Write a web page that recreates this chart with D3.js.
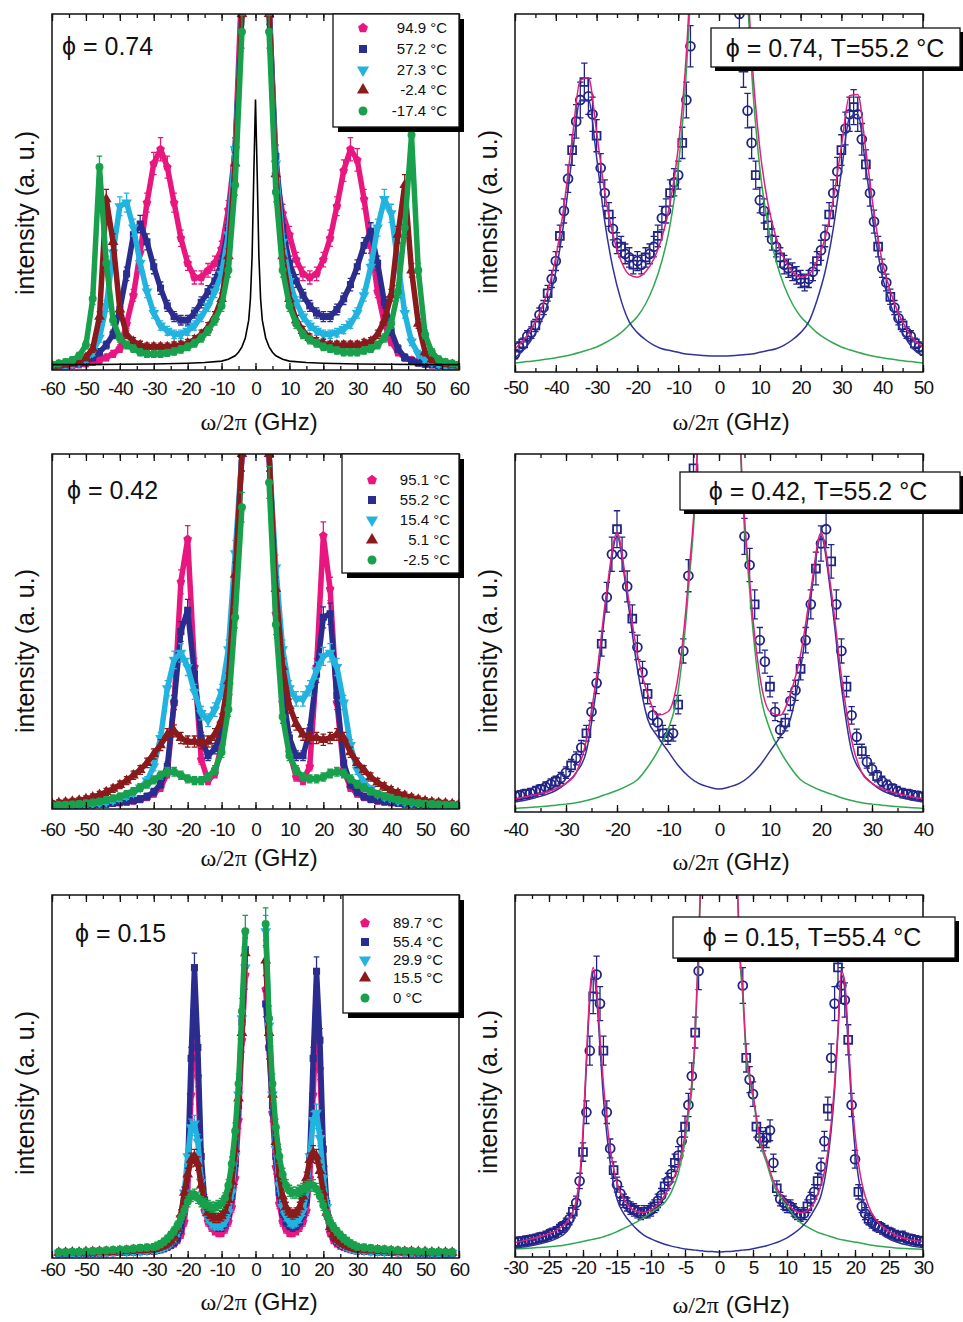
<!DOCTYPE html>
<html>
<head>
<meta charset="utf-8">
<script src="https://cdn.jsdelivr.net/npm/d3@7"></script>
<style>
  body { margin: 0; background: #fff; }
  text { font-family: "Liberation Sans", Arial, sans-serif; fill: #111; }
</style>
</head>
<body>
<svg id="canvas"></svg>
<script>
// ---------- left panels: temperature series (values in % of frame height) ----------
const temps074 = ["94.9 °C", "57.2 °C", "27.3 °C", "-2.4 °C", "-17.4 °C"];
const temps042 = ["95.1 °C", "55.2 °C", "15.4 °C", "5.1 °C", "-2.5 °C"];
const temps015 = ["89.7 °C", "55.4 °C", "29.9 °C", "15.5 °C", "0 °C"];

// phi = 0.74, x = -60..60 step 2
const x074 = d3.range(-60, 61, 2);
const pink074 = [
  1, 1, 1.2, 1.3, 1.5, 1.8, 2.2, 2.8, 3.5, 4.5,
  6, 13, 21, 33, 47, 58, 62, 57, 47, 37,
  30, 26, 26, 28, 30, 34, 45, 62, 110, null,
  null, null, 105, 55, 44, 38, 31, 27, 26, 27,
  31, 37, 46, 56, 62, 59, 48, 35, 22, 13,
  8, 5, 3.5, 2.8, 2.2, 1.8, 1.5, 1.3, 1.2, 1,
  1];
const navy074 = [
  1, 1.2, 1.4, 1.7, 2, 2.5, 3.5, 5, 7, 10,
  17, 27, 38, 41, 36, 29, 23, 18, 15, 14,
  14, 16, 19, 22, 25, 30, 40, 62, 100, null,
  null, null, 102, 60, 40, 30, 25, 21, 18, 16,
  15, 15, 17, 20, 24, 29, 35, 39, 30, 19,
  11, 6, 3.5, 2.6, 2, 1.7, 1.5, 1.3, 1.2, 1.1,
  1];
const cyan074 = [
  1, 1.2, 1.4, 1.7, 2.2, 3, 5, 9, 18, 33,
  46, 47, 40, 30, 22, 16, 12.5, 11, 10, 10,
  11, 12.5, 15, 18, 22, 27, 38, 62, 100, null,
  null, null, 100, 58, 36, 25, 19, 15, 12.5, 11,
  10, 10, 10.5, 11.5, 13, 16, 21, 29, 40, 48,
  44, 30, 16, 8, 4.5, 3, 2.2, 1.7, 1.4, 1.2,
  1];
const red074 = [
  1.2, 1.4, 1.7, 2, 2.5, 3.5, 6, 15, 48, 36,
  17, 10, 8, 7, 6.5, 6.5, 6.5, 6.5, 6.8, 7,
  7.5, 8.5, 10, 12, 15, 20, 32, 58, 100, null,
  null, null, 100, 55, 32, 20, 14, 11, 9, 8,
  7.5, 7, 7, 7, 7, 7, 7.5, 8, 10, 14,
  21, 38, 52, 28, 13, 5, 3, 2.2, 1.8, 1.5,
  1.3];
const green074 = [
  1.5, 1.8, 2.2, 2.8, 4, 7, 20, 57, 30, 14,
  9, 7, 6, 5, 4.5, 4.5, 4.5, 4.8, 5.2, 5.8,
  6.5, 7.5, 9, 11, 14, 18, 28, 52, 95, null,
  null, null, 95, 50, 28, 18, 13, 10, 8.5, 7.5,
  6.5, 6, 5.5, 5, 5, 5, 5.5, 6, 7, 9,
  13, 22, 40, 66, 28, 10, 5, 3, 2.2, 1.8,
  1.5];
// instrument function (black line)
const blackX = [-60, -50, -40, -30, -20, -15, -10, -8, -6, -5, -4, -3, -2, -1.5, -1, -0.5, 0, 0.5, 1, 1.5, 2, 3, 4, 5, 6, 8, 10, 15, 20, 30, 40, 50, 60];
const blackY = [1.5, 1.5, 1.6, 1.7, 1.9, 2.1, 2.5, 3, 4, 5, 6.5, 9, 14, 20, 32, 55, 76, 55, 32, 20, 14, 9, 6.5, 5, 4, 3, 2.5, 2.1, 1.9, 1.7, 1.6, 1.5, 1.5];

// phi = 0.42, x = -60..60 step 2
const x042 = d3.range(-60, 61, 2);
const pink042 = [
  0.8, 0.8, 0.9, 1, 1, 1.1, 1.2, 1.3, 1.4, 1.6,
  1.8, 2, 2.3, 2.7, 3.3, 4.3, 6, 10, 30, 64,
  76, 40, 14, 8, 10, 18, 32, 62, 100, null,
  null, null, 100, 55, 30, 16, 9, 8, 12, 40,
  77, 62, 30, 11, 6, 4.3, 3.3, 2.7, 2.3, 2,
  1.8, 1.6, 1.4, 1.3, 1.2, 1.1, 1, 1, 0.9, 0.8,
  0.8];
const navy042 = [
  0.8, 0.9, 0.9, 1, 1.1, 1.2, 1.3, 1.4, 1.5, 1.7,
  1.9, 2.1, 2.4, 2.8, 3.5, 4.8, 7, 12, 30, 50,
  56, 38, 20, 15, 17, 22, 35, 65, 100, null,
  null, null, 100, 60, 33, 20, 15, 15, 22, 38,
  54, 55, 32, 13, 7, 4.8, 3.5, 2.8, 2.4, 2.1,
  1.9, 1.7, 1.5, 1.4, 1.3, 1.2, 1.1, 1, 0.9, 0.9,
  0.8];
const cyan042 = [
  1, 1, 1.1, 1.2, 1.3, 1.4, 1.6, 1.8, 2.1, 2.5,
  3, 3.7, 4.6, 6, 8, 12, 20, 34, 42, 44,
  40, 33, 27, 25, 28, 33, 45, 72, 100, null,
  null, null, 100, 68, 45, 34, 31, 31, 34, 39,
  43, 44, 40, 30, 18, 11, 7.5, 5.5, 4.3, 3.5,
  2.9, 2.4, 2.1, 1.8, 1.6, 1.4, 1.3, 1.2, 1.1, 1,
  1];
const red042 = [
  1.5, 1.7, 1.9, 2.1, 2.4, 2.8, 3.3, 4, 4.8, 5.7,
  6.8, 8, 9.5, 11, 13, 15.5, 18, 21, 22, 20,
  19, 19, 18.5, 19, 21, 25, 36, 66, 100, null,
  null, null, 100, 62, 40, 29, 24, 21, 20, 20,
  19.5, 20, 21, 20, 16, 13, 11, 9, 7.5, 6.3,
  5.3, 4.5, 3.8, 3.2, 2.7, 2.3, 2, 1.8, 1.6, 1.4,
  1.3];
const green042 = [
  1, 1.1, 1.2, 1.3, 1.4, 1.6, 1.8, 2.1, 2.5, 3,
  3.5, 4.2, 5, 6, 7, 8.2, 9.5, 10.5, 10.5, 9.5,
  8.5, 8, 8, 9, 11, 16, 28, 54, 85, null,
  null, null, 92, 52, 26, 15, 11, 9, 8.5, 8.5,
  9, 10, 10.5, 10, 8.5, 7, 6, 5, 4.2, 3.6,
  3, 2.6, 2.2, 1.9, 1.7, 1.5, 1.4, 1.3, 1.2, 1.1,
  1];

// phi = 0.15, x = -58..-32 step 2, -30..30 step 1, 32..58 step 2
const x015 = d3.range(-58, -31, 2).concat(d3.range(-30, 31, 1), d3.range(32, 59, 2));
const pink015 = [
  1.2, 1.2, 1.3, 1.3, 1.3, 1.4, 1.4, 1.5, 1.5, 1.6, 1.6, 1.7, 1.8, 1.9,
  2, 2.2, 2.4, 2.7, 3, 3.5, 4, 5, 6.5, 10,
  18, 45, 68, 50, 22, 13, 10, 8.5, 7.5, 7,
  7, 8, 10, 14, 22, 38, 60, 78, null, null,
  null, null, null, 74, 58, 40, 25, 15, 10, 8,
  7, 7, 7.5, 8.5, 10, 13, 22, 45, 66, 52,
  25, 12, 7, 5, 4, 3.4, 3, 2.7, 2.4, 2.2,
  2,
  1.9, 1.8, 1.7, 1.6, 1.6, 1.5, 1.5, 1.4, 1.4, 1.3, 1.3, 1.3, 1.2, 1.2];
const navy015 = [
  1.3, 1.3, 1.3, 1.4, 1.4, 1.4, 1.5, 1.5, 1.6, 1.6, 1.7, 1.8, 1.9, 2,
  2, 2.2, 2.4, 2.7, 3.1, 3.6, 4.3, 5.5, 8, 13,
  25, 55, 80, 58, 28, 16, 12, 10, 9, 8.5,
  8.5, 9.5, 12, 17, 26, 42, 65, 85, null, null,
  null, null, null, 70, 58, 42, 28, 18, 12.5, 10,
  9, 8.5, 9, 10, 12, 16, 28, 55, 79, 60,
  30, 15, 9, 6, 4.5, 3.8, 3.3, 2.9, 2.6, 2.3,
  2.1,
  2, 1.9, 1.8, 1.7, 1.6, 1.6, 1.5, 1.5, 1.4, 1.4, 1.4, 1.3, 1.3, 1.3];
const cyan015 = [
  1.4, 1.4, 1.4, 1.5, 1.5, 1.6, 1.6, 1.7, 1.7, 1.8, 1.8, 1.9, 2, 2.1,
  2.2, 2.4, 2.7, 3, 3.5, 4.2, 5.2, 7, 11, 18,
  28, 36, 37, 32, 21, 14, 11, 9.5, 9, 9,
  9, 10, 12.5, 18, 28, 45, 66, 80, null, null,
  null, null, null, 90, 64, 45, 30, 20, 14, 11.5,
  10, 9.5, 10, 11, 13, 18, 28, 38, 40, 33,
  22, 14, 9, 6.5, 5, 4.2, 3.6, 3.1, 2.7, 2.4,
  2.2,
  2.1, 2, 1.9, 1.8, 1.8, 1.7, 1.7, 1.6, 1.6, 1.5, 1.5, 1.4, 1.4, 1.4];
const red015 = [
  1.5, 1.5, 1.6, 1.6, 1.7, 1.7, 1.8, 1.8, 1.9, 2, 2.1, 2.2, 2.3, 2.4,
  2.5, 2.8, 3.1, 3.5, 4, 4.8, 6, 8, 12, 18,
  23, 27, 28, 26, 20, 15, 12.5, 11.5, 11, 11,
  11.5, 13, 16, 21, 30, 44, 62, 84, null, null,
  null, null, null, 82, 62, 45, 32, 23, 17, 14,
  12.5, 12, 12.5, 14, 17, 22, 27, 29, 28, 24,
  18, 12.5, 8.5, 6.5, 5.3, 4.5, 3.9, 3.4, 3, 2.7,
  2.5,
  2.4, 2.3, 2.2, 2.1, 2, 1.9, 1.8, 1.8, 1.7, 1.7, 1.6, 1.6, 1.5, 1.5];
const green015 = [
  1.6, 1.6, 1.7, 1.7, 1.8, 1.9, 2, 2.1, 2.2, 2.3, 2.4, 2.6, 2.8, 2.9,
  3, 3.4, 3.8, 4.5, 5.3, 6.3, 7.5, 9, 11, 13,
  15.5, 17, 17.5, 16.5, 15.5, 15, 14.5, 14, 14, 14.5,
  15, 16.5, 20, 26, 35, 48, 68, 90, null, null,
  null, null, null, 92, 66, 48, 36, 28, 23, 20,
  18.5, 18, 18, 18.5, 19, 19.5, 20, 20, 19, 17,
  14.5, 12, 10, 8.5, 7.3, 6.3, 5.4, 4.7, 4, 3.5,
  3.1,
  2.9, 2.7, 2.5, 2.4, 2.2, 2.1, 2, 1.9, 1.8, 1.8, 1.7, 1.7, 1.6, 1.6];

// ---------- right panels: one spectrum with fits ----------
// phi = 0.74, T = 55.2 °C
const dataX074 = d3.range(-50, 51, 1);
const data074 = [
  5, 7, 8, 10, 11, 13, 16, 18, 22, 26,
  31, 38, 45, 54, 62, 70, 76, 81, 77, 72,
  66, 57, 50, 44, 40, 36, 35, 33, 32, 30,
  31, 30, 32, 33, 35, 38, 43, 45, 50, 53,
  55, 64, 76, 91, null, null, null, null, null, null,
  null, null, null, null, null, 100, 85, 73, 64, 55,
  48, 45, 41, 37, 35, 32, 30, 29, 28, 27,
  26, 25, 26, 28, 31, 34, 38, 44, 50, 56,
  62, 68, 72, 74, 72, 65, 58, 50, 42, 35,
  29, 25, 21, 18, 15, 13, 11, 10, 8, 7,
  6];
const fitX074 = d3.range(-50, 51, 2);
const blue074 = [
  4, 6, 9, 13, 19, 28, 42, 60, 76, 76,
  60, 42, 29, 20, 14, 11, 9, 7.5, 6.5, 6,
  5.5, 5, 4.8, 4.6, 4.5, 4.5, 4.5, 4.6, 4.8, 5,
  5.5, 6, 6.5, 7.5, 9, 11, 14, 20, 28, 40,
  56, 71, 72, 57, 40, 27, 19, 13, 9, 6,
  4.5];
const central074 = [
  2.5, 2.8, 3, 3.3, 3.6, 4, 4.4, 4.9, 5.5, 6.2,
  7, 8.1, 9.4, 11, 13.2, 15.5, 19, 24, 31, 41,
  57, 84, 133, 225, 420, 520, 420, 225, 133, 84,
  57, 41, 31, 24, 19, 15.5, 13.2, 11, 9.4, 8.1,
  7, 6.2, 5.5, 4.9, 4.4, 4, 3.6, 3.3, 3, 2.8,
  2.5];
const total074 = [
  6.5, 8.8, 12, 16.3, 22.6, 32, 46.4, 64.9, 81.5, 82.2,
  67, 50.1, 38.4, 31, 27.2, 26.5, 28, 31.5, 37.5, 47,
  62.5, 89, 137.8, 229.6, 424.5, 524.5, 424.5, 229.6, 137.8, 89,
  62.5, 47, 37.5, 31.5, 28, 26.5, 27.2, 31, 37.4, 48.1,
  63, 77.2, 77.5, 61.9, 44.4, 31, 22.6, 16.3, 12, 8.8,
  7];

// phi = 0.42, T = 55.2 °C
const dataX042 = d3.range(-40, 41, 1);
const data042 = [
  4.5, 4.7, 5, 5.3, 5.8, 6.3, 7, 7.8, 8.5, 9.5,
  11, 13, 15, 18, 22, 28, 36, 47, 60, 72,
  79, 72, 63, 54, 46, 39, 33, 27, 25, 22,
  21, 22, 30, 45, 66, 96, null, null, null, null,
  null, null, null, null, null, 77, 69, 58, 48, 42,
  35, 28, 23, 25, 31, 34, 40, 48, 58, 68,
  75, 79, 70, 58, 45, 35, 27, 21, 17, 14,
  12, 10, 8.5, 7.5, 6.5, 5.8, 5.3, 5, 4.7, 4.5,
  4.3];
const fitX042 = d3.range(-40, 41, 2);
const blue042 = [
  2.8, 3.3, 4, 4.8, 6, 8, 11, 17, 35, 60,
  77, 60, 40, 26, 21, 17, 13, 10, 8, 7,
  6.4, 7, 8, 10, 13, 17, 21, 26, 40, 60,
  77, 60, 35, 17, 11, 8, 6, 4.8, 4, 3.3,
  2.8];
const central042 = [
  1, 1.2, 1.4, 1.6, 1.9, 2.2, 2.6, 3.2, 4, 5,
  6, 7.3, 9, 12.5, 17, 23, 34, 62, 110, 300,
  500, 300, 110, 62, 34, 23, 17, 12.5, 9, 7.3,
  6, 5, 4, 3.2, 2.6, 2.2, 1.9, 1.6, 1.4, 1.2,
  1];
const total042 = [
  3.7, 4.2, 4.8, 5.5, 6.5, 8, 11, 20, 38, 62,
  78, 62, 44, 33, 27, 28, 38, 65, 112, 300,
  500, 300, 112, 65, 38, 28, 27, 33, 44, 62,
  78, 62, 38, 20, 11, 8, 6.5, 5.5, 4.8, 4.2,
  3.7];

// phi = 0.15, T = 55.4 °C
const dataX015 = d3.range(-30, 30.5, 0.5);
const data015 = [
  4, 4.2, 4.3, 4.5, 4.6, 4.8, 5, 5.3, 5.5, 5.8,
  6.2, 6.6, 7, 7.6, 8.3, 9.2, 10.5, 12.5, 15, 21,
  29, 40, 57, 72, 78, 70, 57, 40, 30, 24,
  20, 17.5, 15.5, 14.5, 13.5, 13, 12.5, 12, 12.5, 12.5,
  13, 14, 15.5, 17, 19.5, 21, 23, 26, 28, 32,
  36, 42, 50, 62, 79, null, null, null, null, null,
  null, null, null, null, null, null, null, 75, 55, 49,
  45, 36, 33, 32, 33, 35, 26, 19, 16, 15,
  14, 14, 13, 12, 11.5, 12, 14, 16, 18, 21,
  25, 32, 41, 55, 70, 80, 75, 71, 60, 42,
  27, 18, 14, 12, 10.5, 9.5, 8.8, 8.3, 7.8, 7.3,
  6.8, 6.4, 6, 5.7, 5.8, 5.3, 5, 4.8, 4.6, 4.4,
  4.2];
const fitX015 = [
  -30, -28, -26, -24, -23, -22, -21.5, -21, -20.5, -20,
  -19.5, -19, -18.5, -18, -17.5, -17, -16.5, -16, -15.5, -15,
  -14, -13, -12, -11, -10, -9, -8, -7, -6, -5,
  -4.5, -4, -3.5, -3, -2.5, -2, -1, 0, 1, 2,
  2.5, 3, 3.5, 4, 4.5, 5, 6, 7, 8, 9,
  10, 11, 12, 13, 14, 15, 15.5, 16, 16.5, 17,
  17.5, 18, 18.5, 19, 19.5, 20, 20.5, 21, 22, 23,
  24, 26, 28, 30];
const blue015 = [
  2.5, 3, 3.8, 5, 6, 8, 10, 13, 20, 33,
  53, 71, 79, 72, 58, 44, 34, 26, 20, 16,
  12, 9.5, 7.5, 6, 5, 4.2, 3.5, 3, 2.6, 2.2,
  2.1, 2, 1.9, 1.8, 1.7, 1.6, 1.5, 1.4, 1.5, 1.6,
  1.7, 1.8, 1.9, 2, 2.1, 2.3, 2.7, 3.1, 3.7, 4.4,
  5.3, 6.5, 8, 10, 13, 17, 21, 27, 35, 46,
  62, 78, 74, 58, 42, 30, 22, 17, 11, 8,
  6.2, 4.2, 3.2, 2.6];
const central015 = [
  2.2, 2.4, 2.7, 3, 3.2, 3.5, 3.7, 3.9, 4.1, 4.3,
  4.5, 4.7, 4.9, 5.1, 5.3, 5.6, 5.9, 6.2, 6.6, 7,
  7.9, 8.8, 9.8, 11, 12.3, 13.5, 15, 18, 23, 32,
  39, 46, 60, 85, 120, 200, 400, 600, 400, 200,
  120, 85, 72, 55, 49, 44, 32, 26, 20, 16.5,
  14, 11.5, 9.5, 8.3, 7.3, 6.5, 6.2, 5.9, 5.6, 5.3,
  5, 4.8, 4.6, 4.4, 4.3, 4.1, 4, 3.8, 3.4, 3.1,
  2.9, 2.5, 2.3, 2.1];
const total015 = [
  4, 4.8, 5.8, 7.3, 8.5, 10.5, 12.5, 15.5, 22, 35,
  55, 73, 80, 74, 61, 48, 38, 30, 24.5, 20.5,
  16, 13.5, 12.5, 12.3, 13, 14.5, 17, 20.5, 25, 34,
  41, 48, 62, 87, 122, 200, 400, 600, 400, 200,
  122, 87, 74, 57, 50, 45, 33, 27, 21, 17.5,
  15, 13, 12.2, 12.8, 15, 20, 23.5, 29, 37, 48,
  63, 79, 76, 61, 45, 34, 26, 20.5, 14, 10.5,
  8.5, 6, 4.8, 4.2];

// ---------- styles ----------
const seriesColors = ["#e8177f", "#2b2d8e", "#22b3df", "#8b1a1c", "#18a04c"];
const pentagon = {
  draw(ctx, size) {
    const r = Math.sqrt(size / 2.378);
    for (let i = 0; i < 5; i++) {
      const a = -Math.PI / 2 + i * 2 * Math.PI / 5;
      if (i === 0) ctx.moveTo(r * Math.cos(a), r * Math.sin(a));
      else ctx.lineTo(r * Math.cos(a), r * Math.sin(a));
    }
    ctx.closePath();
  }
};
const seriesShapes = [pentagon, d3.symbolSquare, d3.symbolTriangle, d3.symbolTriangle, d3.symbolCircle];
const navy = "#222485";
const fitBlue = "#2f3398";
const fitGreen = "#2fa84f";
const fitPink = "#e0207e";

const svg = d3.select("#canvas");
const width = 963;
const height = 1322;
svg.attr("width", width).attr("height", height);
const defs = svg.append("defs");

let clipCount = 0;
function clip(x, y, w, h) {
  const id = "clip" + (clipCount++);
  defs.append("clipPath").attr("id", id)
    .append("rect").attr("x", x).attr("y", y).attr("width", w).attr("height", h);
  return `url(#${id})`;
}

const err = v => 0.04 * v + 0.8;
function errPath(px, yTop, yBot, cap) {
  return `M${px},${yTop}V${yBot}M${px - cap},${yTop}H${px + cap}M${px - cap},${yBot}H${px + cap}`;
}

function axes(g, x, top, bottom, major, minor, pad) {
  const fmt = d => String(d);
  g.append("g").attr("transform", `translate(0,${bottom})`)
    .call(d3.axisBottom(x).tickValues(minor).tickSize(-4).tickFormat(""))
    .call(a => a.select(".domain").remove());
  g.append("g").attr("transform", `translate(0,${bottom})`)
    .call(d3.axisBottom(x).tickValues(major).tickSize(-7).tickPadding(pad).tickFormat(fmt))
    .call(a => a.select(".domain").remove())
    .call(a => a.selectAll("text").attr("font-size", 19).attr("letter-spacing", "-0.9")
      .attr("font-family", "'Liberation Sans', Arial, sans-serif").attr("fill", "#111"));
  g.append("g").attr("transform", `translate(0,${top})`)
    .call(d3.axisTop(x).tickValues(minor).tickSize(-4).tickFormat(""))
    .call(a => a.select(".domain").remove());
  g.append("g").attr("transform", `translate(0,${top})`)
    .call(d3.axisTop(x).tickValues(major).tickSize(-7).tickFormat(""))
    .call(a => a.select(".domain").remove());
  g.selectAll(".tick line").attr("stroke", "#111").attr("stroke-width", 1.3);
}

function titles(g, cx, titleY, ylabX, ylabY) {
  const t = g.append("text").attr("x", cx).attr("y", titleY).attr("text-anchor", "middle").attr("font-size", 24);
  t.append("tspan").attr("font-family", "'Liberation Serif', 'Times New Roman', serif").text("ω/2π");
  t.append("tspan").text(" (GHz)");
  g.append("text").attr("transform", `translate(${ylabX},${ylabY}) rotate(-90)`)
    .attr("text-anchor", "middle").attr("font-size", 25).text("intensity (a. u.)");
}

// ---------- left panel ----------
function drawLeft(p) {
  const x0 = 52, x1 = 459;
  const x = d3.scaleLinear().domain([-60, 60]).range([x0, x1]);
  const y = d3.scaleLinear().domain([0, 100]).range([p.bottom, p.top]);
  const g = svg.append("g");
  const plot = g.append("g").attr("clip-path", clip(x0, p.top, x1 - x0, p.bottom - p.top));

  p.series.forEach((vals, i) => {
    const all = p.xs.map((xv, j) => [xv, vals[j]]);
    const pts = all.filter(d => d[1] != null);
    const sg = plot.append("g");
    // dense band of the measured spectrum
    sg.append("path").datum(all)
      .attr("fill", "none").attr("stroke", seriesColors[i]).attr("stroke-width", 5.5)
      .attr("stroke-linejoin", "round")
      .attr("d", d3.line().defined(d => d[1] != null).x(d => x(d[0])).y(d => y(d[1])));
    sg.selectAll("path.err").data(pts).join("path").attr("class", "err")
      .attr("fill", "none").attr("stroke", seriesColors[i]).attr("stroke-width", 1.3)
      .attr("d", d => errPath(x(d[0]), y(d[1] + err(d[1])), y(d[1] - err(d[1])), 2.8));
    sg.selectAll("path.mk").data(pts).join("path").attr("class", "mk")
      .attr("fill", seriesColors[i])
      .attr("transform", d => `translate(${x(d[0])},${y(d[1])})${i === 2 ? " rotate(180)" : ""}`)
      .attr("d", d3.symbol(seriesShapes[i], 50));
  });

  if (p.black) {
    plot.append("path")
      .datum(blackX.map((xv, j) => [xv, blackY[j]]))
      .attr("fill", "none").attr("stroke", "#000").attr("stroke-width", 1.6)
      .attr("d", d3.line().x(d => x(d[0])).y(d => y(d[1])));
  }

  g.append("rect").attr("x", x0).attr("y", p.top).attr("width", x1 - x0).attr("height", p.bottom - p.top)
    .attr("fill", "none").attr("stroke", "#111").attr("stroke-width", 1.5);
  axes(g, x, p.top, p.bottom, d3.range(-60, 61, 10), d3.range(-60, 61, 5), p.pad);
  titles(g, 259, p.titleY, 34, p.ylabY);

  g.append("text").attr("x", p.phiX).attr("y", p.phiY).attr("font-size", 25).text(p.phi);

  // legend
  const L = p.legend;
  g.append("rect").attr("x", L.x + 5).attr("y", L.y + 5).attr("width", L.w).attr("height", L.h).attr("fill", "#000");
  g.append("rect").attr("x", L.x).attr("y", L.y).attr("width", L.w).attr("height", L.h)
    .attr("fill", "#fff").attr("stroke", "#111").attr("stroke-width", 1.3);
  p.temps.forEach((t, i) => {
    g.append("path")
      .attr("transform", `translate(${L.mx},${L.rows[i]})${i === 2 ? " rotate(180)" : ""}`)
      .attr("fill", seriesColors[i]).attr("d", d3.symbol(seriesShapes[i], 64)());
    g.append("text").attr("x", L.tx).attr("y", L.rows[i]).attr("dy", "0.36em")
      .attr("text-anchor", L.anchor).attr("font-size", 15).attr("fill", "#333").text(t);
  });
}

// ---------- right panel ----------
function drawRight(p) {
  const x0 = 515, x1 = 923;
  const x = d3.scaleLinear().domain(p.domain).range([x0, x1]);
  const y = d3.scaleLinear().domain([0, 100]).range([p.bottom, p.top]);
  const g = svg.append("g");
  const plot = g.append("g").attr("clip-path", clip(x0, p.top, x1 - x0, p.bottom - p.top));

  const pts = p.dataX.map((xv, j) => [xv, p.data[j], j]).filter(d => d[1] != null);
  plot.selectAll("path.err").data(pts).join("path").attr("class", "err")
    .attr("fill", "none").attr("stroke", navy).attr("stroke-width", 1.3)
    .attr("d", d => errPath(x(d[0]), y(d[1] + err(d[1]) * 1.3), y(d[1] - err(d[1]) * 1.3), 3.2));
  plot.selectAll("path.mk").data(pts).join("path").attr("class", "mk")
    .attr("fill", "none").attr("stroke", navy).attr("stroke-width", 1.8)
    .attr("transform", d => `translate(${x(d[0])},${y(d[1])})`)
    .attr("d", d => d3.symbol(d[2] % 3 === 2 ? d3.symbolSquare : d3.symbolCircle, 62)());

  const line = d3.line().x(d => x(d[0])).y(d => y(d[1])).curve(d3.curveMonotoneX);
  [[p.central, fitGreen], [p.blue, fitBlue], [p.total, fitPink]].forEach(([vals, col]) => {
    plot.append("path")
      .datum(p.fitX.map((xv, j) => [xv, vals[j]]))
      .attr("fill", "none").attr("stroke", col).attr("stroke-width", 1.5)
      .attr("d", line);
  });

  g.append("rect").attr("x", x0).attr("y", p.top).attr("width", x1 - x0).attr("height", p.bottom - p.top)
    .attr("fill", "none").attr("stroke", "#111").attr("stroke-width", 1.5);
  axes(g, x, p.top, p.bottom, p.major, p.minor, p.pad);
  titles(g, 731, p.titleY, 497, p.ylabY);

  const B = p.box;
  g.append("rect").attr("x", B.x + 4).attr("y", B.y + 4).attr("width", B.w).attr("height", B.h).attr("fill", "#000");
  g.append("rect").attr("x", B.x).attr("y", B.y).attr("width", B.w).attr("height", B.h)
    .attr("fill", "#fff").attr("stroke", "#111").attr("stroke-width", 1.3);
  g.append("text").attr("x", B.tx).attr("y", B.ty).attr("text-anchor", "middle").attr("font-size", 25).text(B.text);
}

drawLeft({
  top: 14, bottom: 370, xs: x074, series: [pink074, navy074, cyan074, red074, green074],
  temps: temps074, black: true, phi: "ϕ = 0.74", phiX: 62, phiY: 55,
  pad: 12, titleY: 430, ylabY: 213,
  legend: { x: 333, y: 14, w: 126, h: 113, mx: 363, tx: 447, anchor: "end", rows: [28, 49, 70, 90, 111] }
});
drawLeft({
  top: 454, bottom: 809, xs: x042, series: [pink042, navy042, cyan042, red042, green042],
  temps: temps042, black: false, phi: "ϕ = 0.42", phiX: 67, phiY: 499,
  pad: 14, titleY: 866, ylabY: 651,
  legend: { x: 342, y: 454, w: 117, h: 119, mx: 372, tx: 450, anchor: "end", rows: [480, 500, 520, 540, 560] }
});
drawLeft({
  top: 895, bottom: 1258, xs: x015, series: [pink015, navy015, cyan015, red015, green015],
  temps: temps015, black: false, phi: "ϕ = 0.15", phiX: 75, phiY: 942,
  pad: 5, titleY: 1310, ylabY: 1093,
  legend: { x: 343, y: 895, w: 116, h: 118, mx: 365, tx: 393, anchor: "start", rows: [923, 942, 960, 978, 998] }
});

drawRight({
  top: 14, bottom: 372, domain: [-50, 50], major: d3.range(-50, 51, 10), minor: d3.range(-50, 51, 5),
  dataX: dataX074, data: data074, fitX: fitX074, blue: blue074, central: central074, total: total074,
  pad: 9, titleY: 430, ylabY: 212,
  box: { x: 711, y: 28, w: 249, h: 39, tx: 835, ty: 57, text: "ϕ = 0.74, T=55.2 °C" }
});
drawRight({
  top: 454, bottom: 812, domain: [-40, 40], major: d3.range(-40, 41, 10), minor: d3.range(-40, 41, 5),
  dataX: dataX042, data: data042, fitX: fitX042, blue: blue042, central: central042, total: total042,
  pad: 11, titleY: 870, ylabY: 651,
  box: { x: 680, y: 472, w: 280, h: 38, tx: 818, ty: 500, text: "ϕ = 0.42, T=55.2 °C" }
});
drawRight({
  top: 895, bottom: 1257, domain: [-30, 30], major: d3.range(-30, 31, 5), minor: d3.range(-30, 31, 2.5),
  dataX: dataX015, data: data015, fitX: fitX015, blue: blue015, central: central015, total: total015,
  pad: 4, titleY: 1313, ylabY: 1092,
  box: { x: 673, y: 917, w: 282, h: 41, tx: 812, ty: 946, text: "ϕ = 0.15, T=55.4 °C" }
});
</script>
</body>
</html>
